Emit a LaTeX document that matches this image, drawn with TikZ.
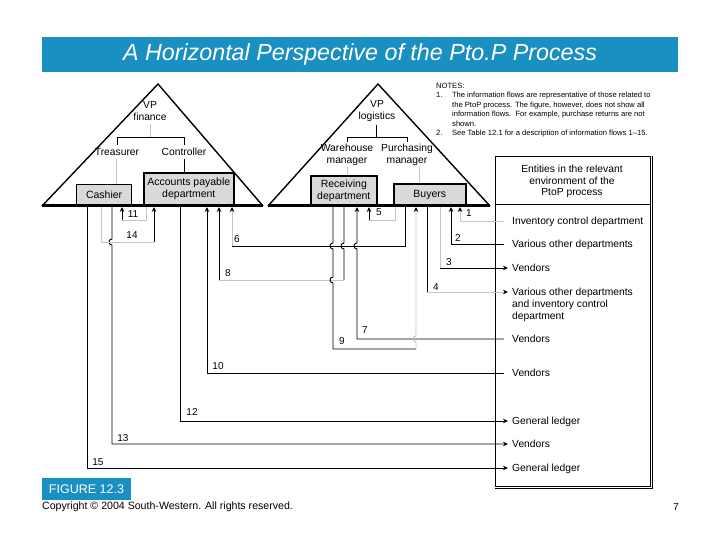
\documentclass[tikz,border=0pt]{standalone}
\usepackage{fontspec}
\setmainfont{Liberation Sans}
\usetikzlibrary{arrows.meta}
\definecolor{titleblue}{RGB}{26,143,194}
\definecolor{linegray}{RGB}{196,196,196}
\definecolor{boxgray}{RGB}{217,217,217}
\begin{document}
\begin{tikzpicture}[x=1pt,y=-1pt,
 blk/.style={draw=black,line width=0.9pt},
 gry/.style={draw=linegray,line width=0.9pt},
 atip/.style={-{Stealth[length=5pt,width=4.5pt,color=black]}},
 flowno/.style={font=\fontsize{10}{12}\selectfont,inner sep=0pt},
 ent/.style={font=\fontsize{10.3}{12}\selectfont,anchor=base west,inner sep=0pt,align=left},
 org/.style={font=\fontsize{10.3}{12}\selectfont,inner sep=0pt,align=center},
 dept/.style={draw=black,line width=1.6pt,fill=boxgray,font=\fontsize{10.5}{12}\selectfont,align=center,inner sep=0pt},
 tri/.style={line width=1.4pt,line join=miter}
]
\useasboundingbox (0,0) rectangle (720,540);
\fill[white] (0,0) rectangle (720,540);

% title
\node[fill=titleblue,text=white,minimum width=636pt,minimum height=35pt,inner sep=0pt,
  font=\fontsize{23.3}{26}\selectfont\itshape] (title) at (360,54.5) {A Horizontal Perspective of the Pto.P Process};

% triangles
\draw[tri] (42,206) -- (158,84) -- (263,206);
\draw[tri] (268,206) -- (378,84) -- (490,206);

% left organisation
\node[org] (vpf) at (150,111) {VP\\finance};
\node[org] (tre) at (117,152) {Treasurer};
\node[org] (con) at (184,152) {Controller};
\draw[gry] (150,124) -- (150,137);
\draw[blk] (117,145) -- (117,137) -- (184,137) -- (184,145);
\draw[gry] (116,159) -- (116,185);
\draw[blk] (184,159) -- (184,174);

% right organisation
\node[org] (vpl) at (377,111) {VP\\logistics};
\node[org] (wh) at (347,155) {Warehouse\\manager};
\node[org] (pm) at (407,155) {Purchasing\\manager};
\draw[blk] (376,125) -- (376,137);
\draw[blk] (347,142) -- (347,137) -- (407,137) -- (407,142);
\draw[gry] (347,167) -- (347,177);
\draw[gry] (419,167) -- (419,185);

% notes
\node[anchor=north west,inner sep=0pt,align=left,font=\fontsize{7.6}{9.4}\selectfont] (notes) at (436,83)
{NOTES:\\
1.\hspace{9.5pt}The information flows are representative of those related to\\
\hspace*{16pt}the PtoP process. The figure, however, does not show all\\
\hspace*{16pt}information flows.\ \ For example, purchase returns are not\\
\hspace*{16pt}shown.\\
2.\hspace{9.5pt}See Table 12.1 for a description of information flows 1–15.};

% environment box
\node[draw,line width=1.1pt,minimum width=155pt,minimum height=330pt,anchor=north west,inner sep=0pt] (env) at (495,156) {};
\draw[line width=1.3pt] ([xshift=1.2pt]env.north east) -- ([xshift=1.2pt,yshift=-1.2pt]env.south east) -- ([yshift=-1.2pt]env.south west);
\draw[line width=0.8pt] (495,204) -- (650,204);
\node[font=\fontsize{10.3}{11.6}\selectfont,align=center,inner sep=0pt] (envh) at (572,181.5)
{Entities in the relevant\\environment of the\\PtoP process};

\node[ent] (e1) at (512,224.5) {Inventory control department};
\node[ent] (e2) at (512,247.5) {Various other departments};
\node[ent] (e3) at (512,271.5) {Vendors};
\node[ent] (e4) at (512,319.5) {Various other departments\\and inventory control\\department};
\node[ent] (e7) at (512,342.5) {Vendors};
\node[ent] (e10) at (512,376.5) {Vendors};
\node[ent] (e12) at (512,424.5) {General ledger};
\node[ent] (e13) at (512,447.5) {Vendors};
\node[ent] (e15) at (512,471.5) {General ledger};

% ports
\coordinate (r1) at (504,221);  \coordinate (b1) at (460,207);
\coordinate (r2) at (504,244);  \coordinate (b2) at (451,207);
\coordinate (r3) at (508,268);  \coordinate (b3) at (440,207);
\coordinate (r4) at (508,292);  \coordinate (b4) at (427,207);
\coordinate (b5a) at (395,207); \coordinate (b5b) at (369,207); \coordinate (k5) at (369,220);
\coordinate (b6a) at (405,207); \coordinate (b6b) at (232,207); \coordinate (k6) at (232,246);
\coordinate (r7) at (504,339);  \coordinate (b7) at (357,207);
\coordinate (b8a) at (344,207); \coordinate (b8b) at (219,207);
\coordinate (b9a) at (333,207); \coordinate (b9b) at (416,207);
\coordinate (r10) at (504,373); \coordinate (b10) at (207,207);
\coordinate (b11a) at (146,207); \coordinate (b11b) at (122,207); \coordinate (k11) at (122,220);
\coordinate (r12) at (508,421); \coordinate (b12) at (180,207);
\coordinate (r13) at (508,444); \coordinate (b13) at (112,207);
\coordinate (b14a) at (101,207); \coordinate (b14b) at (154,207); \coordinate (k14) at (154,242);
\coordinate (r15) at (508,468); \coordinate (b15) at (87,207);

% flows
\draw[gry,atip] (r1) -| (b1);
\draw[blk,atip] (r2) -| (b2);
\draw[gry] (b3) -- (b3 |- r3);
\draw[blk,atip] (b3 |- r3) -- (r3);
\draw[blk] (b4) -- (b4 |- r4);
\draw[gry,atip] (b4 |- r4) -- (r4);
\draw[gry] (b5a) |- (k5);
\draw[blk,atip] (k5) -- (b5b);
\draw[blk] (b6a) |- (k6);
\draw[gry,atip] (k6) -- (b6b);
\draw[blk,atip] (r7) -- (357,339) -- (357,249) .. controls (353,249) and (353,243) .. (357,243) -- (b7);
\draw[blk] (b8a) -- (344,243) .. controls (340,243) and (340,249) .. (344,249) -- (344,280);
\draw[gry] (344,280) -- (219,280);
\draw[blk,atip] (219,280) -- (b8b);
\draw[blk] (b9a) -- (333,243) .. controls (329,243) and (329,249) .. (333,249) -- (333,277)
  .. controls (329,277) and (329,283) .. (333,283) -- (333,349) -- (416,349);
\draw[gry,atip] (416,349) -- (416,342) .. controls (412,342) and (412,336) .. (416,336) -- (b9b);
\draw[blk,atip] (r10) -| (b10);
\draw[gry] (b11a) |- (k11);
\draw[blk,atip] (k11) -- (b11b);
\draw[blk,atip] (b12) |- (r12);
\draw[blk,atip] (b13) -- (112,239) .. controls (108,239) and (108,245) .. (112,245) |- (r13);
\draw[gry] (b14a) |- (k14);
\draw[blk,atip] (k14) -- (b14b);
\draw[blk,atip] (b15) |- (r15);

% flow numbers
\node[flowno] (n1) at (469,213) {1};
\node[flowno] (n2) at (458,238) {2};
\node[flowno] (n3) at (449,262) {3};
\node[flowno] (n4) at (436,287) {4};
\node[flowno] (n5) at (379,212) {5};
\node[flowno] (n6) at (237,239) {6};
\node[flowno] (n7) at (365,330) {7};
\node[flowno] (n8) at (228,273) {8};
\node[flowno] (n9) at (342,341) {9};
\node[flowno] (n10) at (218,366) {10};
\node[flowno] (n11) at (133,214) {11};
\node[flowno] (n12) at (192,412) {12};
\node[flowno] (n13) at (123,438) {13};
\node[flowno] (n14) at (132,235) {14};
\node[flowno] (n15) at (98,462) {15};

% department boxes
\node[dept,line width=1.2pt,minimum width=55pt,minimum height=21pt,anchor=south west] (cash) at (76,206) {Cashier};
\node[dept,minimum width=90pt,minimum height=32pt,anchor=south west] (ap) at (143,206) {Accounts payable\\department};
\node[dept,minimum width=66pt,minimum height=29pt,anchor=south west] (recv) at (310,206) {Receiving\\department};
\node[dept,minimum width=72pt,minimum height=21pt,anchor=south west] (buy) at (393,206) {Buyers};

% bases
\draw[line width=3pt] (42,205.5) -- (263,205.5);
\draw[line width=3pt] (268,205.5) -- (490,205.5);

% footer
\node[fill=titleblue,text=white,minimum width=89pt,minimum height=22pt,inner sep=0pt,
  font=\fontsize{12.5}{14}\selectfont] (fig) at (86.5,489) {FIGURE 12.3};
\node[anchor=west,inner sep=0pt,font=\fontsize{10.6}{12}\selectfont] (copy) at (42,507) {Copyright © 2004 South-Western. All rights reserved.};
\node[inner sep=0pt,font=\fontsize{10.3}{12}\selectfont] (pg) at (676,507) {7};
\end{tikzpicture}
\end{document}
